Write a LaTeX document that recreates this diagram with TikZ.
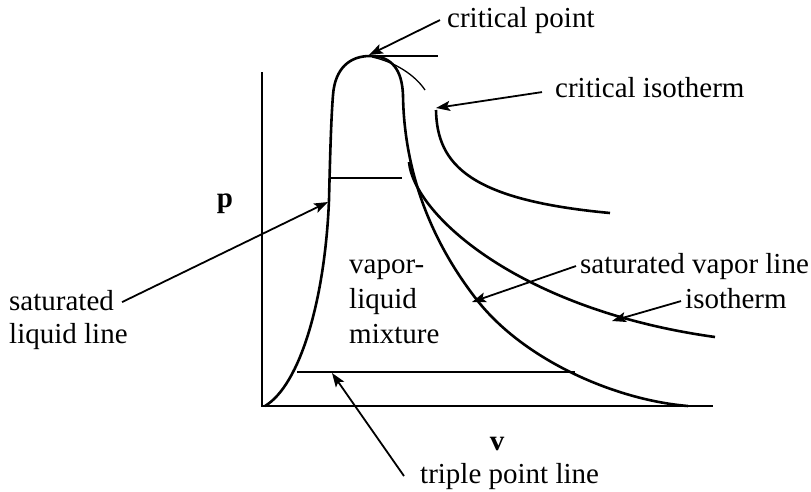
\documentclass[tikz,border=0pt]{standalone}
\usepackage{fontspec}
\setmainfont{Liberation Serif}
\usetikzlibrary{arrows.meta}
\begin{document}
\begin{tikzpicture}[x=1pt, y=-1pt,
  every node/.style={font=\fontsize{29}{35}\selectfont, inner sep=2pt},
  curve/.style={line width=2.6pt, line join=round},
  thincurve/.style={line width=1.3pt},
  pointer/.style={line width=1.8pt, -{Stealth[length=14pt,width=10pt,inset=3pt]}}]
  \useasboundingbox (0,0) rectangle (811,491);
  % axes
  \draw[line width=2.6pt] (262,72) |- (713,406);
  % saturation dome
  \draw[curve] (265,406) .. controls (300,385) and (325,300) .. (329,200)
    .. controls (330,160) and (331,120) .. (333,95)
    .. controls (335,68) and (350,56) .. (370,56)
    .. controls (392,56) and (402,70) .. (403,95)
    .. controls (404,170) and (430,240) .. (477,300)
    .. controls (524,360) and (615,400) .. (688,406);
  % isotherm through the dome
  \draw[curve] (330,178) -- (402,178);
  \draw[curve] (409,162) .. controls (414,215) and (520,310) .. (715,337);
  % critical isotherm
  \draw[curve] (370,56) -- (438,56);
  \draw[thincurve] (372,57) .. controls (395,62) and (415,75) .. (425,90);
  \draw[curve] (436,110) .. controls (437,165) and (470,200) .. (610,213);
  % triple point line
  \draw[curve] (297,372) -- (575,372);
  % labels
  \node[anchor=base west] (cp) at (445,27) {critical point};
  \node[anchor=base west] (ci) at (553,97) {critical isotherm};
  \node[anchor=base] (plab) at (225,207) {\textbf{p}};
  \node[anchor=base] (vlab) at (497,450) {\textbf{v}};
  \node[anchor=base west] (satl) at (7,310) {saturated};
  \node[anchor=base west] (liql) at (7,343) {liquid line};
  \foreach \y/\lab in {273/vapor-,308/liquid,343/mixture} \node[anchor=base west] (mix\y) at (347,\y) {\lab};
  \node[anchor=base west] (satv) at (578,273) {saturated vapor line};
  \node[anchor=base west] (iso) at (683,308) {isotherm};
  \node[anchor=base west] (tpl) at (418,483) {triple point line};
  % arrow tips
  \coordinate (cptip) at (369,55);
  \coordinate (citip) at (436,108);
  \coordinate (sltip) at (328,202);
  \coordinate (svtip) at (472,302);
  \coordinate (isotip) at (612,321);
  \coordinate (tptip) at (332,373);
  \draw[pointer] ([xshift=-5pt]cp.west) -- (cptip);
  \draw[pointer] ([xshift=-11pt,yshift=-5pt]ci.west) -- (citip);
  \draw[pointer] ([xshift=6pt,yshift=-2pt]satl.east) -- (sltip);
  \draw[pointer] ([xshift=-2pt]satv.west) -- (svtip);
  \draw[pointer] ([xshift=-2pt,yshift=-3pt]iso.west) -- (isotip);
  \draw[pointer] ([xshift=-14pt]tpl.west) -- (tptip);
\end{tikzpicture}
\end{document}
